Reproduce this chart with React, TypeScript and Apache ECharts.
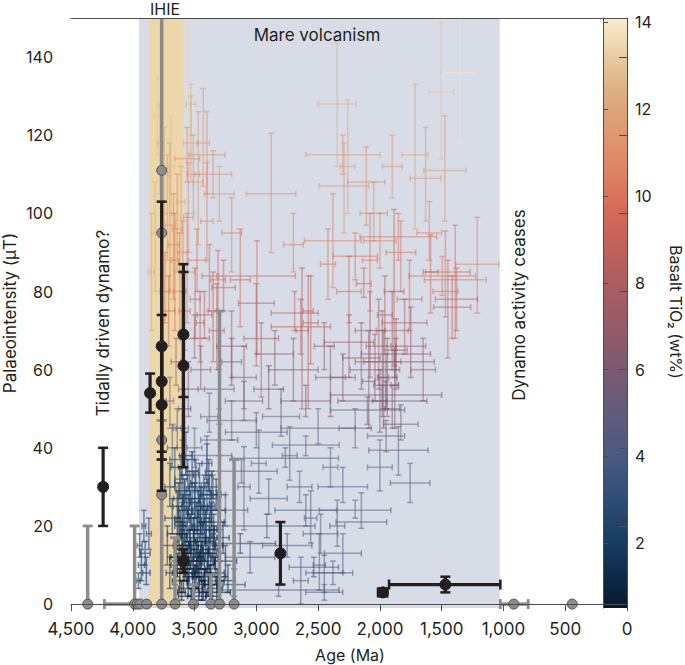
import React, { useEffect, useRef } from "react";
import * as echarts from "echarts";

const FONT = "Inter, sans-serif";
const TEXT = "#231f20";
const AXIS = "#4d4d4d";

// Axes
const ageMax = 4500;
const piMin = -1;
const piMax = 150;
const yTickValues = [0, 20, 40, 60, 80, 100, 120, 140];
const tiMin = 0.51;
const tiMax = 14.1;
const tiTickValues = [2, 4, 6, 8, 10, 12, 14];

// Colour map for basalt TiO2 (wt%)
const tiStops = [0.51, 2, 3, 4, 5, 6, 7, 8, 9, 9.7, 10.5, 11.5, 12.5, 14.1];
const tiColors = ["#061830", "#173c60", "#2f4d74", "#4a5a80", "#625c7c", "#7b5a70", "#955b68", "#ad5d60", "#c6625a", "#d66a5a", "#df8164", "#dd9a70", "#dcb183", "#f8eecf"];

// Shaded intervals (Ma)
const mareRange = [3950, 1030];
const ihieRange = [3865, 3590];

// Crosses: [age Ma, age error Ma, palaeointensity μT, low bound, high bound, TiO2 wt%]
const crossesHighTiEarly = [
  [3800, 30, 125, 115, 135, 13], [3780, 25, 118, 105, 128, 12.5], [3770, 20, 130, 122, 140, 13.5],
  [3745, 30, 110, 95, 122, 12], [3720, 35, 100, 88, 115, 11.5], [3700, 40, 97, 80, 118, 11],
  [3690, 30, 112, 102, 125, 12.8], [3680, 25, 126, 118, 134, 13.5], [3670, 45, 92, 78, 105, 10.5],
  [3660, 30, 88, 70, 100, 10], [3640, 40, 96, 85, 110, 11], [3620, 50, 80, 68, 95, 10],
  [3610, 35, 103, 95, 112, 12], [3595, 40, 90, 80, 98, 10.5], [3580, 45, 75, 65, 85, 9.5],
  [3560, 60, 85, 72, 100, 10.5], [3550, 30, 130, 113, 152, 13.5], [3550, 40, 99, 90, 113, 11],
  [3530, 60, 118, 108, 130, 12], [3530, 40, 128, 120, 133, 12.5], [3510, 50, 110, 100, 120, 11.5],
  [3495, 40, 78, 68, 86, 9.5], [3480, 70, 88, 80, 96, 10], [3470, 40, 108, 92, 126, 11.5],
  [3455, 30, 72, 62, 80, 9], [3430, 50, 118, 107, 132, 11.5], [3400, 145, 115, 105, 126, 11],
  [3400, 50, 98, 88, 113, 10.5], [3380, 60, 84, 75, 92, 9.5], [3350, 40, 75, 62, 85, 9],
  [3320, 60, 70, 60, 82, 8.5], [3850, 25, 85, 70, 100, 12], [3820, 25, 95, 80, 108, 12.5],
  [3560, 100, 114, 108, 122, 11], [3740, 40, 80, 72, 90, 10], [3710, 50, 75, 66, 84, 9.5],
];

const crossesHighTiLate = [
  [2880, 200, 105, 90, 120.5, 11], [2345, 155, 128, 112, 143.5, 12.5], [2260, 60, 112, 100, 129, 12],
  [1505, 100, 131, 114, 149, 13], [1355, 125, 136, 118, 152, 14], [1715, 105, 115, 96, 133, 12],
  [1630, 125, 109, 98, 122, 11.5], [1475, 170, 111, 98, 125, 11.5], [2290, 200, 107, 95, 118, 11.5],
  [2110, 150, 108, 97, 117, 11], [2300, 300, 115, 110, 120, 11.5], [1900, 80, 112, 104, 120, 11.5],
  [2050, 110, 100, 93, 108, 11], [1600, 100, 95, 88, 103, 10.5],
];

const crossesMidHigh = [
  [2995, 310, 84, 64, 93, 9.5], [3130, 80, 83, 71, 96, 9.5], [2630, 50, 70, 50, 86, 8.5],
  [2580, 40, 75, 50, 84, 8.5], [2690, 190, 74.5, 70, 80, 9], [2640, 240, 71, 64, 78, 8.5],
  [3265, 95, 81, 75, 88, 9], [3310, 60, 83, 75, 90.5, 9.5], [3000, 145, 77, 61, 82, 8.5],
  [2960, 140, 68, 53, 72, 8], [2380, 230, 93, 81, 105, 10.5], [1212, 175, 87, 74.5, 99, 10.5],
  [1390, 250, 83, 68, 97, 10], [1450, 180, 85, 63, 88, 9.5], [1470, 100, 80, 73.5, 95.5, 10],
  [1590, 60, 85, 74.5, 94.5, 9.5], [1850, 310, 94, 88, 100, 10], [1380, 170, 78, 70, 86, 9],
  [1415, 150, 76, 68, 84, 9], [1885, 80, 80, 61, 101, 9], [2200, 180, 89, 83, 95, 10],
  [2130, 60, 82, 78.5, 86, 9], [2560, 60, 72, 61.5, 84, 8.5], [1495, 270, 84, 79, 89, 10],
  [1830, 120, 90, 80, 98, 10], [2000, 130, 93, 86, 100, 10.5], [2080, 60, 88, 75, 100, 10],
  [1760, 100, 78, 70, 88, 9.5], [2250, 100, 80, 72, 89, 9.5], [2420, 60, 87, 78, 96, 10],
  [2700, 80, 92, 85, 100, 10.5], [3200, 80, 95, 85, 104, 10.5], [3300, 120, 105, 98, 112, 11.5],
  [3350, 150, 110, 104, 116, 11],
];

const crossesMid = [
  [2080, 120, 70, 58, 80, 8], [2010, 100, 66, 55, 78, 7.5], [1980, 150, 62, 50, 75, 7],
  [1960, 60, 74, 66, 84, 8.5], [1940, 80, 58, 48, 68, 6.5], [2040, 200, 60, 52, 69, 7],
  [1900, 130, 70, 60, 80, 8], [1870, 90, 65, 55, 73, 7.5], [2150, 150, 63, 55, 72, 7],
  [2250, 200, 67, 58, 74, 7.5], [1800, 180, 72, 64, 78, 8], [1750, 120, 66, 58, 76, 7.5],
  [2400, 120, 58, 48, 66, 6.5], [2700, 200, 60, 52, 68, 6.5], [2850, 150, 64, 56, 70, 7],
  [3200, 120, 66, 58, 75, 7.5], [3100, 100, 58, 50, 66, 6.5], [2000, 60, 52, 44, 60, 6],
  [1650, 100, 60, 52, 68, 7], [1870, 280, 64, 60, 68, 6.8], [1880, 320, 62, 58, 66, 6.5],
  [1950, 450, 53.5, 50, 57, 5.8], [1980, 360, 52, 48, 56, 5.6], [2090, 50, 57, 45, 70, 6.5],
  [1970, 40, 58, 45, 70, 6.5], [1880, 30, 56, 45, 65, 6.2], [3300, 120, 55, 50, 60, 6],
  [3200, 80, 62, 56, 68, 6.5], [3380, 70, 48, 44, 54, 5.5], [3100, 150, 52, 47, 57, 6],
  [2900, 120, 55, 50, 61, 6], [2600, 200, 52, 48, 56, 6], [2450, 80, 66, 60, 72, 7],
  [2300, 100, 58, 52, 64, 6.5], [2200, 130, 45, 40, 50, 5.5], [1900, 60, 50, 45, 56, 5.8],
  [1830, 140, 46, 42, 51, 5.5], [1950, 100, 56, 50, 64, 6.3], [3450, 80, 60, 55, 66, 7],
  [3500, 120, 68, 63, 74, 7.5], [3420, 60, 74, 68, 80, 8.5], [3600, 50, 45, 40, 50, 5],
  [3550, 80, 55, 48, 62, 6], [3650, 40, 62, 56, 68, 7], [3500, 60, 40, 35, 45, 4.8],
  [3700, 30, 52, 45, 58, 6],
];

const crossesBlueGray = [
  [3120, 290, 34, 31, 37, 4], [2730, 60, 38, 31.7, 45.4, 4.5], [2600, 250, 24, 20, 28, 4],
  [2915, 390, 20, 17, 23, 3.5], [2560, 50, 22, 15.6, 29, 4], [2535, 200, 9.4, 7, 12, 3.5],
  [2640, 60, 6, 0, 12, 3.8], [2820, 490, 3.6, 2, 5, 3.5], [2490, 50, 10, 3.6, 18, 4],
  [3130, 285, 15.5, 13, 18, 3], [2765, 430, 37.3, 35, 40, 4.5], [2600, 270, 40.7, 38, 43, 4.8],
  [3100, 50, 30, 19, 40.3, 4], [2980, 60, 36, 28.4, 44.5, 4.5], [2345, 60, 20, 14.8, 26.6, 4.2],
  [2450, 150, 8, 3, 12.5, 3.8], [2480, 140, 18, 13, 23, 4.2], [1850, 240, 39.4, 33, 45.4, 4.6],
  [1755, 160, 31, 26, 36, 4.2], [2150, 205, 21, 19.4, 28.5, 4], [2200, 290, 24, 22, 26.6, 4.5],
  [2100, 300, 49.7, 46, 53, 5], [3300, 150, 42, 38, 46, 4.5], [3200, 200, 47, 42, 52, 5],
  [3000, 250, 44, 40, 49, 5], [2800, 150, 48, 43, 55, 5.2], [2500, 300, 45, 41, 50, 5],
  [3350, 100, 28, 24, 33, 3.8], [3250, 180, 24, 20, 28, 3.5], [3050, 200, 12, 8, 16, 3.5],
  [2900, 150, 27, 23, 32, 4], [3400, 200, 38, 34, 43, 4], [2300, 200, 30, 26, 35, 4.5],
  [2000, 100, 35, 29, 42, 4.8], [2300, 150, 13, 8, 18, 3.8], [3180, 90, 5, 2, 9, 3],
  [2750, 200, 15, 12, 18, 3.8], [2650, 100, 30, 26, 34, 4.2], [1950, 150, 43, 39, 47, 5],
  [2400, 60, 35, 30, 40, 4.6], [2450, 150, 3, 1, 5, 3.8], [2380, 160, 8, 5, 11, 4],
];

const crossesLowTi = [
  [3700, 40, 30, 25, 36, 2.5], [3680, 60, 22, 18, 27, 2], [3660, 30, 35, 30, 40, 3],
  [3650, 50, 12, 8, 16, 1.5], [3640, 80, 18, 14, 22, 2], [3630, 40, 27, 22, 31, 2.5],
  [3620, 60, 6, 3, 9, 1.2], [3610, 50, 32, 27, 38, 3], [3600, 70, 15, 11, 19, 1.5],
  [3590, 40, 24, 20, 28, 2], [3580, 90, 9, 6, 12, 1.3], [3570, 50, 38, 33, 44, 3.2],
  [3560, 60, 20, 16, 25, 1.8], [3550, 80, 4, 2, 7, 1], [3540, 40, 29, 24, 34, 2.4],
  [3530, 70, 13, 9, 17, 1.4], [3520, 50, 34, 30, 39, 2.8], [3510, 90, 18, 14, 22, 1.7],
  [3500, 40, 26, 22, 31, 2.2], [3490, 60, 7, 4, 10, 1.1], [3480, 100, 22, 18, 26, 2],
  [3470, 50, 11, 7, 15, 1.4], [3460, 70, 31, 26, 36, 2.7], [3450, 40, 16, 12, 21, 1.6],
  [3440, 80, 3, 1, 6, 1], [3430, 60, 25, 21, 30, 2.3], [3420, 50, 9, 5, 13, 1.2],
  [3410, 90, 19, 15, 24, 1.8], [3400, 40, 36, 31, 41, 3.4], [3390, 70, 13, 9, 17, 1.5],
  [3380, 60, 28, 24, 33, 2.6], [3370, 50, 5, 2, 8, 1.1], [3360, 100, 21, 17, 26, 2.1],
  [3350, 40, 14, 10, 18, 1.6], [3330, 70, 8, 5, 12, 1.3], [3310, 60, 24, 20, 29, 2.5],
  [3290, 80, 3, 1, 6, 1.2], [3270, 50, 17, 13, 21, 2], [3250, 90, 11, 7, 15, 1.8],
  [3230, 60, 6, 3, 10, 1.5], [3700, 30, 8, 4, 12, 1.8], [3720, 50, 15, 10, 20, 2.2],
  [3680, 40, 40, 35, 46, 3.5], [3560, 130, 12, 9, 15, 1.4], [3450, 150, 27, 24, 30, 2.5],
  [3520, 110, 2, 0, 4, 1], [3600, 100, 37, 33, 42, 3.3], [3380, 130, 7, 4, 10, 1.2],
  [3640, 30, 45, 40, 50, 3.8], [3580, 50, 50, 44, 55, 4],
];

const crossesLowTiDense = [
  [3660, 20, 8, 5, 11, 1.2], [3640, 35, 25, 21, 29, 2.2], [3625, 25, 14, 10, 18, 1.4],
  [3615, 45, 20, 17, 24, 1.9], [3605, 30, 3, 1, 6, 0.9], [3595, 55, 29, 25, 33, 2.6],
  [3585, 25, 17, 13, 21, 1.6], [3575, 40, 10, 7, 13, 1.1], [3565, 30, 26, 23, 30, 2.3],
  [3555, 50, 33, 29, 37, 2.9], [3545, 25, 8, 5, 11, 1], [3535, 60, 19, 15, 23, 1.7],
  [3525, 30, 23, 19, 27, 2.1], [3515, 40, 5, 2, 8, 0.9], [3505, 35, 15, 11, 19, 1.3],
  [3495, 50, 30, 26, 34, 2.6], [3485, 25, 12, 8, 16, 1.2], [3475, 45, 20, 16, 24, 1.8],
  [3465, 30, 4, 1, 7, 0.8], [3455, 60, 24, 20, 28, 2.2], [3445, 35, 9, 6, 12, 1.1],
  [3435, 25, 17, 13, 21, 1.5], [3425, 50, 29, 25, 33, 2.7], [3415, 30, 6, 3, 9, 0.9],
  [3405, 40, 21, 17, 25, 1.9], [3395, 60, 11, 8, 14, 1.2], [3385, 25, 33, 29, 37, 3],
  [3375, 45, 16, 12, 20, 1.5], [3365, 30, 25, 21, 29, 2.3], [3355, 50, 2, 0, 5, 0.8],
  [3345, 35, 19, 15, 23, 1.8], [3335, 25, 12, 9, 15, 1.2], [3325, 40, 28, 24, 32, 2.6],
  [3315, 55, 6, 3, 9, 1], [3300, 30, 15, 11, 19, 1.5],
];

const crossesLowTiCore = [
  [3640, 50, 10, 7, 13, 1.3], [3630, 30, 21, 18, 25, 2], [3620, 40, 31, 27, 35, 2.7],
  [3610, 25, 12, 9, 15, 1.2], [3600, 60, 22, 19, 26, 2], [3590, 30, 6, 3, 9, 1],
  [3580, 45, 28, 24, 32, 2.5], [3570, 25, 15, 12, 18, 1.4], [3560, 50, 9, 6, 12, 1.1],
  [3550, 30, 24, 21, 28, 2.2], [3540, 45, 16, 13, 19, 1.5], [3530, 25, 2, 0, 4, 0.8],
  [3520, 55, 27, 23, 31, 2.4], [3510, 30, 11, 8, 14, 1.2], [3500, 45, 19, 16, 22, 1.7],
  [3490, 25, 33, 29, 37, 2.9], [3480, 50, 14, 11, 17, 1.3], [3470, 30, 25, 22, 29, 2.3],
  [3460, 40, 8, 5, 11, 1], [3450, 25, 21, 18, 25, 1.9], [3440, 55, 13, 10, 16, 1.3],
  [3430, 30, 3, 1, 6, 0.9], [3420, 45, 23, 20, 27, 2.1], [3410, 25, 14, 11, 17, 1.4],
  [3400, 50, 28, 25, 32, 2.5], [3390, 30, 5, 2, 8, 1], [3380, 40, 19, 16, 22, 1.7],
  [3370, 25, 10, 7, 13, 1.1], [3360, 55, 30, 27, 34, 2.7], [3340, 30, 17, 14, 20, 1.6],
  [3320, 45, 4, 1, 7, 1], [3500, 20, 7, 4, 10, 0.9], [3550, 20, 13, 10, 16, 1.1],
  [3600, 20, 18, 15, 21, 1.6], [3450, 20, 12, 9, 15, 1.2],
];

const crossesPreMare = [
  [3945, 20, 15, 12, 18, 2.5], [3930, 25, 10, 6, 14, 2], [3910, 15, 20, 16, 24, 3],
  [3955, 15, 6, 4, 8, 2], [3890, 30, 8, 5, 12, 1.8], [3900, 40, 13, 10, 16, 2.5],
  [3870, 20, 18, 14, 22, 3],
];

// Grey points: [age, younger age bound, older age bound, palaeointensity, low, high]
const greyPoints = [
  [4365, 4365, 4365, 0, 0, 20], [3985, 3985, 4230, 0, 0, 20], [3963, 3963, 3963, 0, 0, 0],
  [3941, 3941, 3941, 0, 0, 0], [3888, 3888, 3888, 0, 0, 0], [3766, 3766, 3766, 0, 0, 160],
  [3658, 3658, 3658, 0, 0, 17], [3509, 3509, 3509, 0, 0, 5], [3368, 3368, 3368, 0, 0, 7.5],
  [3298, 3298, 3298, 0, 0, 75], [3180, 3180, 3180, 0, 0, 37], [917, 800, 1025, 0, 0, 0],
  [443, 443, 443, 0, 0, 0], [3766, 3766, 3766, 111, 111, 111], [3766, 3766, 3766, 95, 95, 95],
  [3766, 3766, 3766, 42, 37, 47], [3766, 3766, 3766, 28, 28, 28],
];

// Black points: [age, younger age bound, older age bound, palaeointensity, low, high]
const blackPoints = [
  [4240, 4240, 4240, 30, 20, 40], [3860, 3860, 3860, 54, 49, 59], [3766, 3766, 3766, 66, 29, 103],
  [3766, 3766, 3766, 57, 39, 74], [3766, 3766, 3766, 51, 37, 66], [3590, 3590, 3590, 69, 35, 87],
  [3590, 3590, 3590, 61, 53, 85], [3590, 3590, 3590, 11, 8, 14], [2805, 2805, 2805, 13, 5, 21],
  [1470, 1025, 1926, 5, 3, 7], [1976, 1940, 2015, 3, 2, 4],
];

const allCrosses = [
  ...crossesHighTiEarly, ...crossesHighTiLate, ...crossesMidHigh, ...crossesMid,
  ...crossesBlueGray, ...crossesLowTi, ...crossesLowTiDense, ...crossesLowTiCore, ...crossesPreMare,
];

function tiColor(v: number): string {
  const n = tiStops.length;
  if (v <= tiStops[0]) return tiColors[0];
  if (v >= tiStops[n - 1]) return tiColors[n - 1];
  for (let i = 0; i < n - 1; i++) {
    if (v <= tiStops[i + 1]) {
      const t = (v - tiStops[i]) / (tiStops[i + 1] - tiStops[i]);
      return echarts.color.lerp(t, [tiColors[i], tiColors[i + 1]]) as string;
    }
  }
  return tiColors[n - 1];
}

const xLabel = (v: number) =>
  v >= 1000 ? `${Math.floor(v / 1000)},${String(v % 1000).padStart(3, "0")}` : String(v);

function vLine(x: number, y1: number, y2: number, style: any) {
  return { type: "line", shape: { x1: x, y1, x2: x, y2 }, style };
}
function hLine(y: number, x1: number, x2: number, style: any) {
  return { type: "line", shape: { x1, y1: y, x2, y2: y }, style };
}

function crossItem(params: any, api: any) {
  const age = api.value(0), err = api.value(1), pi = api.value(2);
  const lo = api.value(3), hi = api.value(4), ti = api.value(5);
  const color = tiColor(ti);
  const style = { stroke: color, lineWidth: 1.5, opacity: ti < 3.5 ? 0.6 : 0.5 };
  const c = api.coord([age, pi]);
  const cap = 3;
  const ch: any[] = [];
  if (err > 0) {
    const l = api.coord([age + err, pi]);
    const r = api.coord([age - err, pi]);
    ch.push(hLine(c[1], l[0], r[0], style));
    ch.push(vLine(l[0], c[1] - cap, c[1] + cap, style));
    ch.push(vLine(r[0], c[1] - cap, c[1] + cap, style));
  }
  if (hi > lo) {
    const t = api.coord([age, Math.min(hi, piMax)]);
    const b = api.coord([age, lo]);
    ch.push(vLine(c[0], t[1], b[1], style));
    if (hi <= piMax) ch.push(hLine(t[1], c[0] - cap, c[0] + cap, style));
    ch.push(hLine(b[1], c[0] - cap, c[0] + cap, style));
  }
  return { type: "group", children: ch };
}

function pointItemFactory(color: string, stroke: string, lw: number, capW: number, r: number) {
  return (params: any, api: any) => {
    const age = api.value(0), young = api.value(1), old = api.value(2);
    const pi = api.value(3), lo = api.value(4), hi = api.value(5);
    const c = api.coord([age, pi]);
    const st = { stroke: color, lineWidth: lw };
    const capSt = { stroke: color, lineWidth: lw * 0.8 };
    const ch: any[] = [];
    if (old > young) {
      const l = api.coord([old, pi]);
      const rr = api.coord([young, pi]);
      ch.push(hLine(c[1], l[0], rr[0], st));
      ch.push(vLine(l[0], c[1] - capW, c[1] + capW, capSt));
      ch.push(vLine(rr[0], c[1] - capW, c[1] + capW, capSt));
    }
    if (hi > lo) {
      const t = api.coord([age, Math.min(hi, piMax)]);
      const b = api.coord([age, lo]);
      ch.push(vLine(c[0], t[1], b[1], st));
      if (hi <= piMax) ch.push(hLine(t[1], c[0] - capW, c[0] + capW, capSt));
      if (lo < pi) ch.push(hLine(b[1], c[0] - capW, c[0] + capW, capSt));
    }
    ch.push({ type: "circle", shape: { cx: c[0], cy: c[1], r }, style: { fill: color, stroke, lineWidth: 1 } });
    return { type: "group", children: ch };
  };
}

function bandItem(fills: string[]) {
  return (params: any, api: any) => {
    const a = api.coord([api.value(0), piMax]);
    const b = api.coord([api.value(1), piMin]);
    return {
      type: "rect",
      shape: { x: a[0], y: a[1], width: b[0] - a[0], height: b[1] - a[1] },
      style: { fill: fills[params.dataIndex] },
    };
  };
}

function colorbarItem(params: any, api: any) {
  const a = api.coord([0, tiMax]);
  const b = api.coord([1, tiMin]);
  const stops = tiStops.map((s, i) => ({ offset: (s - tiMin) / (tiMax - tiMin), color: tiColors[i] }));
  return {
    type: "rect",
    shape: { x: a[0], y: a[1], width: b[0] - a[0], height: b[1] - a[1] },
    style: { fill: new echarts.graphic.LinearGradient(0, 1, 0, 0, stops) },
  };
}

const option: any = {
  animation: false,
  backgroundColor: "#ffffff",
  grid: [
    { left: 71, right: 58, top: 18, bottom: 57 },
    { left: 603, right: 58, top: 18, bottom: 57 },
  ],
  xAxis: [
    {
      gridIndex: 0, type: "value", inverse: true, min: 0, max: ageMax, interval: 500, position: "bottom", z: 10,
      axisLine: { show: true, lineStyle: { color: AXIS, width: 1 } },
      axisTick: { show: true, length: 7, lineStyle: { color: AXIS } },
      axisLabel: { fontFamily: FONT, fontSize: 17, color: TEXT, margin: 12, formatter: xLabel },
      splitLine: { show: false },
    },
    {
      gridIndex: 0, type: "value", inverse: true, min: 0, max: ageMax, position: "top", z: 10,
      axisLine: { show: true, lineStyle: { color: AXIS, width: 1 } },
      axisTick: { show: false }, axisLabel: { show: false }, splitLine: { show: false },
    },
    { gridIndex: 1, type: "value", min: 0, max: 1, show: false },
  ],
  yAxis: [
    {
      gridIndex: 0, type: "value", min: piMin, max: piMax, z: 10,
      axisLine: { show: true, lineStyle: { color: AXIS, width: 1 } },
      axisTick: { show: true, length: 8, customValues: yTickValues, lineStyle: { color: AXIS } },
      axisLabel: { fontFamily: FONT, fontSize: 16, color: TEXT, margin: 18, customValues: yTickValues },
      splitLine: { show: false },
    },
    {
      gridIndex: 1, type: "value", min: tiMin, max: tiMax, position: "right", z: 10,
      axisLine: { show: true, lineStyle: { color: AXIS, width: 1 } },
      axisTick: { show: true, length: 5, customValues: tiTickValues, lineStyle: { color: AXIS } },
      axisLabel: { fontFamily: FONT, fontSize: 16, color: TEXT, margin: 8, customValues: tiTickValues },
      splitLine: { show: false },
    },
  ],
  series: [
    {
      type: "custom", xAxisIndex: 0, yAxisIndex: 0, z: 1, silent: true,
      data: [[mareRange[0], mareRange[1]], [ihieRange[0], ihieRange[1]]],
      renderItem: bandItem(["#d7dce6", "#ecd7ab"]),
    },
    {
      type: "custom", xAxisIndex: 0, yAxisIndex: 0, z: 2, silent: true,
      data: allCrosses, renderItem: crossItem,
    },
    {
      type: "custom", xAxisIndex: 0, yAxisIndex: 0, z: 3, silent: true,
      data: greyPoints, renderItem: pointItemFactory("#8c8c8c", "#555555", 3.5, 5, 5),
    },
    {
      type: "custom", xAxisIndex: 0, yAxisIndex: 0, z: 4, silent: true,
      data: blackPoints, renderItem: pointItemFactory("#231f20", "#231f20", 3.2, 5, 5.5),
    },
    {
      type: "custom", xAxisIndex: 2, yAxisIndex: 1, z: 5, silent: true,
      data: [[0, 1]], renderItem: colorbarItem,
    },
  ],
  graphic: [
    { type: "text", x: 165, y: 9, style: { text: "IHIE", fontFamily: FONT, fontSize: 16, fill: TEXT, align: "center", verticalAlign: "middle" } },
    { type: "text", x: 317, y: 35, z: 20, style: { text: "Mare volcanism", fontFamily: FONT, fontSize: 17, fill: TEXT, align: "center", verticalAlign: "middle" } },
    { type: "text", x: 103, y: 323, rotation: Math.PI / 2, z: 20, style: { text: "Tidally driven dynamo?", fontFamily: FONT, fontSize: 17, fill: TEXT, align: "center", verticalAlign: "middle" } },
    { type: "text", x: 519, y: 305, rotation: Math.PI / 2, z: 20, style: { text: "Dynamo activity ceases", fontFamily: FONT, fontSize: 17, fill: TEXT, align: "center", verticalAlign: "middle" } },
    { type: "text", x: 10, y: 313, rotation: Math.PI / 2, style: { text: "Palaeointensity (μT)", fontFamily: FONT, fontSize: 17, fill: TEXT, align: "center", verticalAlign: "middle" } },
    { type: "text", x: 350, y: 655, style: { text: "Age (Ma)", fontFamily: FONT, fontSize: 16, fill: TEXT, align: "center", verticalAlign: "middle" } },
    { type: "text", x: 676, y: 312, rotation: -Math.PI / 2, style: { text: "Basalt TiO₂ (wt%)", fontFamily: FONT, fontSize: 16, fill: TEXT, align: "center", verticalAlign: "middle" } },
  ],
};

export default function App() {
  const ref = useRef<HTMLDivElement>(null);
  useEffect(() => {
    const chart = echarts.init(ref.current!, null, { renderer: "svg" });
    chart.setOption(option);
    return () => chart.dispose();
  }, []);
  return (
    <div
      ref={ref}
      style={{ position: "fixed", left: 0, top: 0, width: 685, height: 665, background: "#ffffff" }}
    />
  );
}
